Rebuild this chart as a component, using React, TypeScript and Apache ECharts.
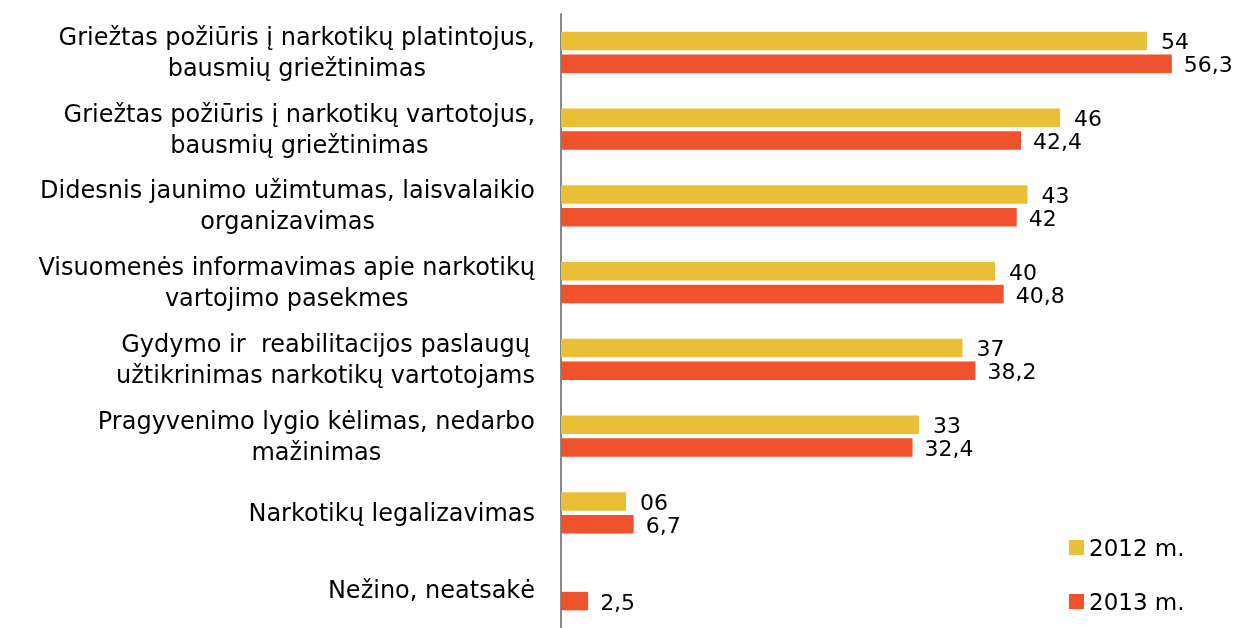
import React, { useEffect, useRef } from "react";
import * as echarts from "echarts";

const categories = [
  "Griežtas požiūris į narkotikų platintojus,\nbausmių griežtinimas",
  "Griežtas požiūris į narkotikų vartotojus,\nbausmių griežtinimas",
  "Didesnis jaunimo užimtumas, laisvalaikio\norganizavimas",
  "Visuomenės informavimas apie narkotikų\nvartojimo pasekmes",
  "Gydymo ir  reabilitacijos paslaugų\nužtikrinimas narkotikų vartotojams",
  "Pragyvenimo lygio kėlimas, nedarbo\nmažinimas",
  "Narkotikų legalizavimas",
  "Nežino, neatsakė",
];
const values2012 = [54, 46, 43, 40, 37, 33, 6, null];
const labels2012 = ["54", "46", "43", "40", "37", "33", "06", ""];
const values2013 = [56.3, 42.4, 42, 40.8, 38.2, 32.4, 6.7, 2.5];
const labels2013 = ["56,3", "42,4", "42", "40,8", "38,2", "32,4", "6,7", "2,5"];
const seriesNames = ["2012 m.", "2013 m."];

const FONT = "DejaVu Sans";

export default function App() {
  const ref = useRef<HTMLDivElement>(null);
  useEffect(() => {
    if (!ref.current) return;
    const chart = echarts.init(ref.current, null, { renderer: "svg" });
    chart.setOption({
      animation: false,
      textStyle: { fontFamily: FONT },
      grid: { left: 561, top: 14, width: 651, height: 623 },
      legend: {
        orient: "vertical",
        left: 1064,
        top: 531,
        itemWidth: 15,
        itemHeight: 15,
        itemGap: 31,
        icon: "rect",
        textStyle: { fontFamily: FONT, fontSize: 23, color: "#000" },
        data: seriesNames,
      },
      xAxis: {
        type: "value",
        min: 0,
        max: 60,
        show: false,
      },
      yAxis: {
        type: "category",
        inverse: true,
        data: categories,
        axisLine: { show: true, lineStyle: { color: "#888", width: 2 } },
        axisTick: { show: false },
        axisLabel: {
          margin: 26,
          align: "right",
          color: "#000",
          fontFamily: FONT,
          fontSize: 24,
          lineHeight: 31,
          formatter: (v: string) =>
            v
              .split("\n")
              .map((l) => `{c|${l}}`)
              .join("\n"),
          rich: {
            c: {
              align: "center",
              fontFamily: FONT,
              fontSize: 24,
              lineHeight: 31,
              color: "#000",
            },
          },
        },
      },
      series: [
        {
          name: seriesNames[0],
          type: "bar",
          data: values2012,
          barWidth: 18.5,
          barGap: "24%",
          itemStyle: { color: "#E8BF37" },
          label: {
            show: true,
            position: "right",
            distance: 14,
            offset: [0, 1],
            color: "#000",
            fontFamily: FONT,
            fontSize: 22,
            lineHeight: 20,
            formatter: (p: any) => labels2012[p.dataIndex],
          },
        },
        {
          name: seriesNames[1],
          type: "bar",
          data: values2013,
          barWidth: 18.5,
          barGap: "24%",
          itemStyle: { color: "#F0522D" },
          label: {
            show: true,
            position: "right",
            distance: 12,
            offset: [0, 1],
            color: "#000",
            fontFamily: FONT,
            fontSize: 22,
            lineHeight: 20,
            formatter: (p: any) => labels2013[p.dataIndex],
          },
        },
      ],
    });
    return () => chart.dispose();
  }, []);
  return (
    <div
      ref={ref}
      style={{ position: "fixed", left: 0, top: 0, width: 1249, height: 628 }}
    />
  );
}
